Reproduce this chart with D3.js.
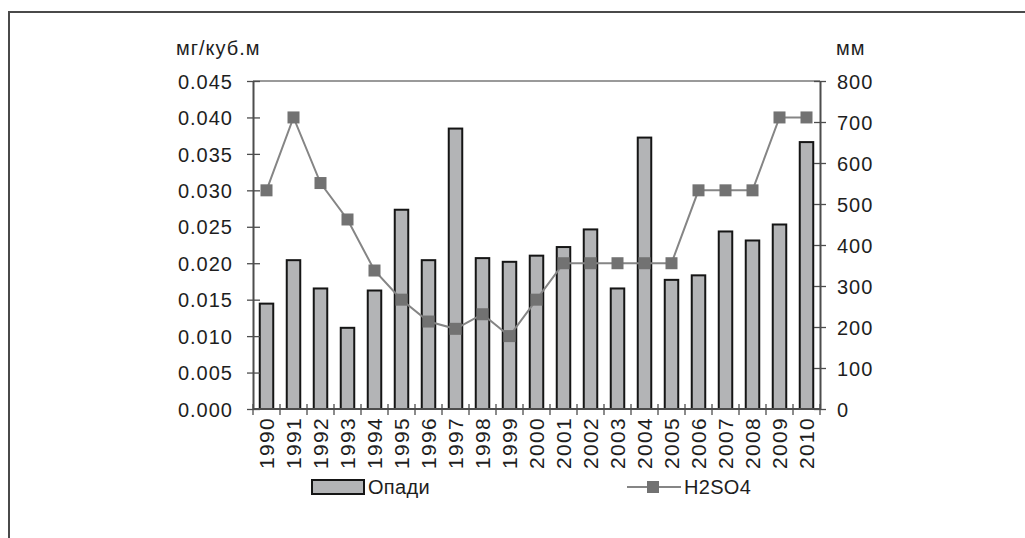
<!DOCTYPE html>
<html>
<head>
<meta charset="utf-8">
<script src="https://cdn.jsdelivr.net/npm/d3@7"></script>
<style>
  html, body { margin: 0; padding: 0; background: #fff; }
  svg { display: block; }
  text { font-family: Arial, "Liberation Sans", Helvetica, sans-serif; fill: #1e1e1e; letter-spacing: 1px; }
</style>
</head>
<body>
<svg id="chart" width="1025" height="538"></svg>
<script>
// Years along the category axis
const years = ["1990","1991","1992","1993","1994","1995","1996","1997","1998","1999","2000",
               "2001","2002","2003","2004","2005","2006","2007","2008","2009","2010"];
// Precipitation, mm (bars, right axis)
const precipitation = [257, 363, 294, 198, 289, 486, 363, 684, 368, 359, 374,
                       395, 438, 294, 662, 315, 326, 433, 411, 450, 651];
// H2SO4 concentration, mg per cubic metre (line, left axis)
const h2so4 = [0.030, 0.040, 0.031, 0.026, 0.019, 0.015, 0.012, 0.011, 0.013, 0.010, 0.015,
               0.020, 0.020, 0.020, 0.020, 0.020, 0.030, 0.030, 0.030, 0.040, 0.040];
// Axis ticks
const leftTicks = [0, 0.005, 0.010, 0.015, 0.020, 0.025, 0.030, 0.035, 0.040, 0.045];
const rightTicks = [0, 100, 200, 300, 400, 500, 600, 700, 800];
const leftUnit = "мг/куб.м";
const rightUnit = "мм";
const seriesNames = ["Опади", "H2SO4"];

const svg = d3.select("#chart");
const plot = { left: 253, right: 820, top: 81, bottom: 409 };

// Outer frame (top and left edges)
svg.append("path")
  .attr("d", `M9,538 V12 H1025`)
  .attr("fill", "none").attr("stroke", "#4a4a4a").attr("stroke-width", 2);

const x = d3.scaleBand().domain(years).range([plot.left, plot.right]).paddingInner(0).paddingOuter(0);
const yL = d3.scaleLinear().domain([0, 0.045]).range([plot.bottom, plot.top]);
const yR = d3.scaleLinear().domain([0, 800]).range([plot.bottom, plot.top]);

// Top border of plot area
svg.append("line")
  .attr("x1", plot.left).attr("x2", plot.right)
  .attr("y1", plot.top).attr("y2", plot.top)
  .attr("stroke", "#9a9a9a").attr("stroke-width", 2);

// Bars
const barW = x.bandwidth() * 0.5;
svg.append("g").selectAll("rect").data(precipitation).join("rect")
  .attr("x", (d, i) => x(years[i]) + (x.bandwidth() - barW) / 2)
  .attr("y", d => yR(d))
  .attr("width", barW)
  .attr("height", d => plot.bottom - yR(d))
  .attr("fill", "#b3b4b6")
  .attr("stroke", "#151515")
  .attr("stroke-width", 2);

// Left axis
const axL = svg.append("g").attr("transform", `translate(${plot.left},0)`)
  .call(d3.axisLeft(yL).tickValues(leftTicks).tickFormat(d3.format(".3f")).tickSizeInner(6).tickSizeOuter(0).tickPadding(14));
axL.select(".domain").attr("stroke", "#4d4d4d").attr("stroke-width", 2);
axL.selectAll(".tick line").attr("stroke", "#4d4d4d").attr("stroke-width", 1.3).attr("x2", 7).attr("x1", -6);
axL.selectAll(".tick text").attr("font-size", 20).attr("fill", "#1e1e1e").attr("dy", "0.36em")
  .style("font-family", "Arial, 'Liberation Sans', sans-serif");

// Right axis
const axR = svg.append("g").attr("transform", `translate(${plot.right},0)`)
  .call(d3.axisRight(yR).tickValues(rightTicks).tickFormat(d3.format("d")).tickSizeInner(6).tickSizeOuter(0).tickPadding(11));
axR.select(".domain").attr("stroke", "#4d4d4d").attr("stroke-width", 2);
axR.selectAll(".tick line").attr("stroke", "#4d4d4d").attr("stroke-width", 1.3).attr("x1", -6).attr("x2", 6);
axR.selectAll(".tick text").attr("font-size", 20).attr("fill", "#1e1e1e").attr("dy", "0.36em")
  .style("font-family", "Arial, 'Liberation Sans', sans-serif");

// Bottom axis with ticks at category boundaries
const axB = svg.append("g").attr("transform", `translate(0,${plot.bottom})`);
axB.append("line").attr("x1", plot.left).attr("x2", plot.right)
  .attr("stroke", "#4d4d4d").attr("stroke-width", 2);
const bounds = years.map(y => x(y)).concat([plot.right]);
axB.selectAll("line.tk").data(bounds).join("line").attr("class", "tk")
  .attr("x1", d => d).attr("x2", d => d).attr("y1", -5).attr("y2", 6)
  .attr("stroke", "#4d4d4d").attr("stroke-width", 1.3);
axB.selectAll("text.yr").data(years).join("text").attr("class", "yr")
  .attr("transform", d => `translate(${x(d) + x.bandwidth() / 2 + 7.5},${8}) rotate(-90)`)
  .attr("text-anchor", "end")
  .attr("font-size", 21)
  .style("letter-spacing", "1.3px")
  .text(d => d);

// H2SO4 line and markers
const line = d3.line().x((d, i) => x(years[i]) + x.bandwidth() / 2).y(d => yL(d));
svg.append("path").datum(h2so4)
  .attr("d", line).attr("fill", "none").attr("stroke", "#858585").attr("stroke-width", 2);
const m = 12;
svg.append("g").selectAll("rect").data(h2so4).join("rect")
  .attr("x", (d, i) => x(years[i]) + x.bandwidth() / 2 - m / 2)
  .attr("y", d => yL(d) - m / 2)
  .attr("width", m).attr("height", m)
  .attr("fill", "#727272");

// Axis unit labels
svg.append("text").attr("x", 176).attr("y", 55).attr("font-size", 20).text(leftUnit);
svg.append("text").attr("x", 836).attr("y", 55).attr("font-size", 20).text(rightUnit);

// Legend
const lg = svg.append("g");
lg.append("rect").attr("x", 312).attr("y", 480).attr("width", 52).attr("height", 14)
  .attr("fill", "#b3b4b6").attr("stroke", "#151515").attr("stroke-width", 2);
lg.append("text").attr("x", 368).attr("y", 494).attr("font-size", 20).style("letter-spacing", "0.3px").text(seriesNames[0]);
lg.append("line").attr("x1", 627).attr("x2", 681).attr("y1", 487).attr("y2", 487)
  .attr("stroke", "#858585").attr("stroke-width", 2);
lg.append("rect").attr("x", 653 - m / 2).attr("y", 487 - m / 2).attr("width", m).attr("height", m)
  .attr("fill", "#727272");
lg.append("text").attr("x", 684).attr("y", 494).attr("font-size", 20).style("letter-spacing", "0.3px").text(seriesNames[1]);
</script>
</body>
</html>
